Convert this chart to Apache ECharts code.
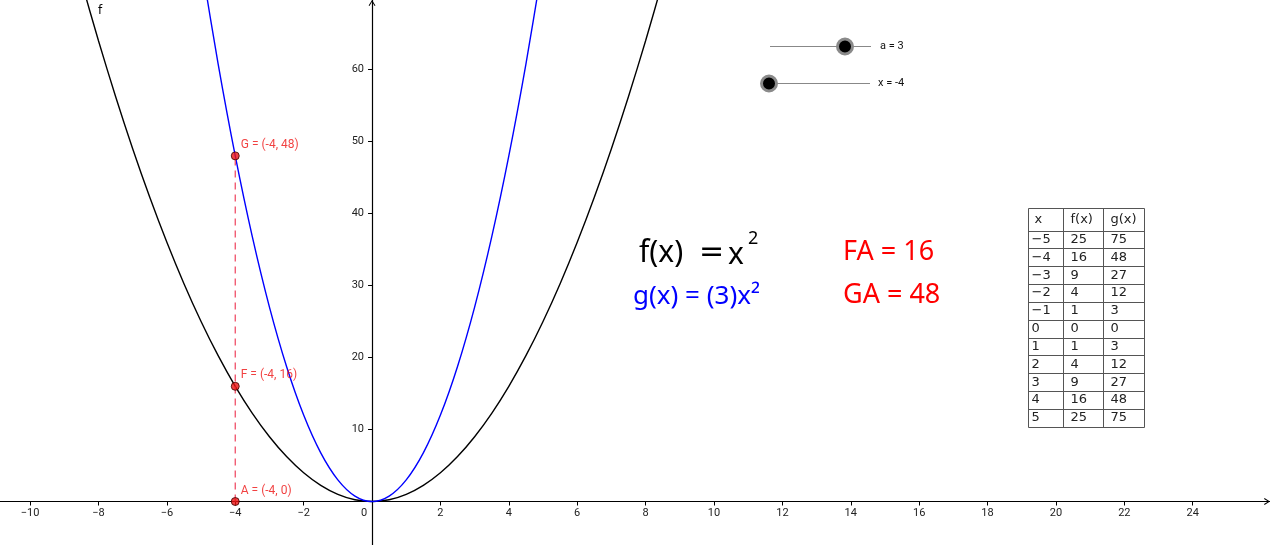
<!DOCTYPE html>
<html><head><meta charset="utf-8">
<script src="https://cdn.jsdelivr.net/npm/echarts@6/dist/echarts.min.js"></script>
<style>html,body{margin:0;padding:0;background:#fff}#c{width:1270px;height:545px}</style>
</head><body><div id="c"></div>
<script>
const xTicks = [-10,-8,-6,-4,-2,0,2,4,6,8,10,12,14,16,18,20,22,24];
const yTicks = [10,20,30,40,50,60];
const fX = [-9,-8.5,-8,-7.5,-7,-6.5,-6,-5.5,-5,-4.5,-4,-3.5,-3,-2.5,-2,-1.5,-1,-0.5,0,0.5,1,1.5,2,2.5,3,3.5,4,4.5,5,5.5,6,6.5,7,7.5,8,8.5,9];
const fY = [81,72.25,64,56.25,49,42.25,36,30.25,25,20.25,16,12.25,9,6.25,4,2.25,1,0.25,0,0.25,1,2.25,4,6.25,9,12.25,16,20.25,25,30.25,36,42.25,49,56.25,64,72.25,81];
const gX = [-5,-4.5,-4,-3.5,-3,-2.5,-2,-1.5,-1,-0.5,0,0.5,1,1.5,2,2.5,3,3.5,4,4.5,5];
const gY = [75,60.75,48,36.75,27,18.75,12,6.75,3,0.75,0,0.75,3,6.75,12,18.75,27,36.75,48,60.75,75];
const pointNames = ['A','F','G'];
const pointX = [-4,-4,-4];
const pointY = [0,16,48];
const tableHeader = ['x','f(x)','g(x)'];
const tableX = [-5,-4,-3,-2,-1,0,1,2,3,4,5];
const tableF = [25,16,9,4,1,0,1,4,9,16,25];
const tableG = [75,48,27,12,3,0,3,12,27,48,75];
const sliderTexts = ['a = 3','x = -4'];
const measureTexts = ['FA = 16','GA = 48'];

const minus = v => String(v).replace('-', '\u2212');

const W = 1270, H = 545;
const xMin = -10.88, xMax = 26.26, yMin = -6.04, yMax = 69.65;
const xAxisOffset = -((0 - yMin) / (yMax - yMin) * H);
const yAxisOffset = -((0 - xMin) / (xMax - xMin) * W);

const chart = echarts.init(document.getElementById('c'), null, {renderer:'canvas'});

const graphic = [];
// table
const cols = [1028.5, 1063.5, 1103.5, 1144.5], tT = 208.5, hH = 22, rH = 17.85;
const nRows = tableX.length;
const tB = Math.round(tT + hH + rH * nRows) + 0.5;
const lineStyle = {stroke:'#555', lineWidth:1};
cols.forEach(cx => graphic.push({type:'line', shape:{x1:cx,y1:tT,x2:cx,y2:tB}, style:lineStyle, silent:true}));
for (let k = 0; k <= nRows + 1; k++) {
  const yy = k === 0 ? tT : Math.round(tT + hH + rH * (k - 1)) + 0.5;
  graphic.push({type:'line', shape:{x1:cols[0],y1:yy,x2:cols[3],y2:yy}, style:lineStyle, silent:true});
}
const tFont = '13px "DejaVu Sans"';
const padX = [3, 7, 7];
tableHeader.forEach((h, i) => graphic.push({type:'text', x: cols[i] + padX[i] + (i===0?3:0), y: tT + hH/2, style:{text:h, font:tFont, fill:'#222', align:'left', verticalAlign:'middle'}, silent:true}));
tableX.forEach((xv, r) => {
  const cy = tT + hH + rH * (r + 0.5);
  [minus(xv), String(tableF[r]), String(tableG[r])].forEach((t, i) => {
    graphic.push({type:'text', x: cols[i] + padX[i], y: cy, style:{text:t, font:tFont, fill:'#222', align:'left', verticalAlign:'middle'}, silent:true});
  });
});
// sliders
const sliders = [{x1:770, x2:871, y:46.5, knob:845, tx:880}, {x1:769, x2:870, y:83.5, knob:769, tx:878}];
sliders.forEach((s, i) => {
  graphic.push({type:'line', shape:{x1:s.x1,y1:s.y,x2:s.x2,y2:s.y}, style:{stroke:'#888', lineWidth:1}, silent:true});
  graphic.push({type:'circle', shape:{cx:s.knob, cy:s.y, r:7.5}, style:{fill:'#000', stroke:'#8a8a8a', lineWidth:3}, silent:true});
  graphic.push({type:'text', x:s.tx, y:s.y, style:{text:sliderTexts[i], font:'11px Roboto', fill:'#111', align:'left', verticalAlign:'middle'}, silent:true});
});
// formulas
const fF = '30px "Noto Sans"';
graphic.push({type:'text', x:639, y:253, style:{text:'f(x)', font:fF, fill:'#000', align:'left', verticalAlign:'middle'}, silent:true});
graphic.push({type:'text', x:699, y:253, style:{text:'=', font:'30px "DejaVu Sans"', fill:'#000', align:'left', verticalAlign:'middle'}, silent:true});
graphic.push({type:'text', x:728, y:255, style:{text:'x', font:fF, fill:'#000', align:'left', verticalAlign:'middle'}, silent:true});
graphic.push({type:'text', x:748, y:239, style:{text:'2', font:'18px "Noto Sans"', fill:'#000', align:'left', verticalAlign:'middle'}, silent:true});
graphic.push({type:'text', x:633, y:297, style:{text:'g(x) = (3)x\u00b2', font:'26px "Noto Sans"', fill:'#0000ff', align:'left', verticalAlign:'middle'}, silent:true});
graphic.push({type:'text', x:843, y:252, style:{text:measureTexts[0], font:'27px "Noto Sans"', fill:'#ff0000', align:'left', verticalAlign:'middle'}, silent:true});
graphic.push({type:'text', x:843, y:295, style:{text:measureTexts[1], font:'27px "Noto Sans"', fill:'#ff0000', align:'left', verticalAlign:'middle'}, silent:true});
// function name label
graphic.push({type:'text', x:98, y:11, style:{text:'f', font:'12px "DejaVu Sans"', fill:'#000', align:'left', verticalAlign:'middle'}, silent:true});

const chevron = 'path://M5,0 L10,8 L8.8,8.8 L5,2.6 L1.2,8.8 L0,8 Z';

const option = {
  animation:false,
  backgroundColor:'#fff',
  grid:{left:0, right:0, top:0, bottom:0, containLabel:false, outerBoundsMode:'none'},
  xAxis:{
    type:'value', min:xMin, max:xMax, position:'bottom', offset:xAxisOffset,
    axisLine:{onZero:false, lineStyle:{color:'#000', width:1.2}, symbol:['none', chevron], symbolSize:[8,6], symbolOffset:[0,-3]},
    axisTick:{show:true, length:4, lineStyle:{color:'#000'}, customValues:xTicks},
    axisLabel:{margin:6, color:'#222', fontFamily:'Roboto', fontSize:11, customValues:xTicks, hideOverlap:false,
      formatter: v => v === 0 ? '{z|0}' : minus(v), rich:{z:{padding:[0,16,0,0], fontFamily:'Roboto', fontSize:11, color:'#222'}}},
    splitLine:{show:false}
  },
  yAxis:{
    type:'value', min:yMin, max:yMax, position:'left', offset:yAxisOffset,
    axisLine:{onZero:false, lineStyle:{color:'#000', width:1.2}, symbol:['none', chevron], symbolSize:[8,6], symbolOffset:[0,-3]},
    axisTick:{show:true, length:4, lineStyle:{color:'#000'}, customValues:yTicks},
    axisLabel:{margin:8, color:'#222', fontFamily:'Roboto', fontSize:11, customValues:yTicks, hideOverlap:false},
    splitLine:{show:false}
  },
  graphic: graphic,
  series:[
    {type:'line', name:'f', data: fX.map((x,i)=>[x,fY[i]]), smooth:0.3, symbol:'none', clip:true,
      lineStyle:{color:'#000', width:1.4}, z:3},
    {type:'line', name:'g', data: gX.map((x,i)=>[x,gY[i]]), smooth:0.3, symbol:'none', clip:true,
      lineStyle:{color:'#0000ff', width:1.4}, z:3},
    {type:'line', name:'AG', data:[[pointX[0],pointY[0]],[pointX[2],pointY[2]]], symbol:'none',
      lineStyle:{color:'#f05068', width:1.3, type:[7,5]}, z:4},
    {type:'scatter', name:'pts', data: pointX.map((x,i)=>({value:[x,pointY[i]], name:pointNames[i]})),
      symbolSize:8, itemStyle:{color:'#ee1111', borderColor:'#3a0000', borderWidth:1}, z:5,
      label:{show:true, position:'right', distance:1, offset:[0,-11], color:'#ee1111', fontFamily:'Roboto', fontSize:12,
        formatter: p => p.name + ' = (' + p.value[0] + ', ' + p.value[1] + ')'}}
  ]
};
chart.setOption(option);
</script></body></html>
